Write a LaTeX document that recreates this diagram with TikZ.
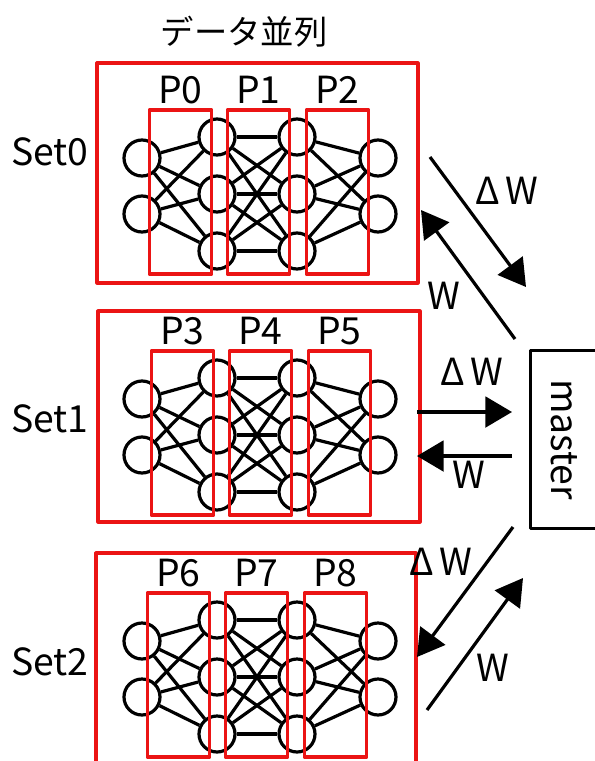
\documentclass[tikz,border=0pt]{standalone}
\usepackage{fontspec}
\setmainfont{Noto Sans CJK JP}
\usetikzlibrary{arrows.meta}
\definecolor{fg}{RGB}{0,0,0}
\definecolor{part}{RGB}{235,20,20}
\tikzset{
  every picture/.style={fg, line width=2.4pt, line join=round,
    >={Triangle[length=20pt,width=23pt]}},
  every node/.style={font=\fontsize{28pt}{30pt}\selectfont},
  % Netz
  neuron/.style={circle, draw=fg, line width=2.4pt, inner sep=0pt, minimum size=27pt},
  link/.style={line width=2.4pt},
  % Rahmen
  setframe/.style={draw=part, line width=2.4pt},
  pframe/.style={draw=part, line width=2.4pt, inner sep=0pt,
    minimum width=47pt, minimum height=123pt},
  % Kommunikation
  msg/.style={line width=2.4pt, ->},
}
\begin{document}
\begin{tikzpicture}[x=0.75pt, y=-0.75pt]
  \clip (0,0) rectangle (595,761);
  \node[font=\fontsize{25pt}{27pt}\selectfont] (title) at (244,32) {データ並列};
  % drei Datensätze mit je drei Prozessen
  \foreach \s/\dy/\dx/\top/\bot/\ly in {0/0/0/63/283/152, 1/241/2/311/522/419, 2/483/-2/553/800/662} {
    \node (set\s) at (50,\ly) {Set\s};
    \draw[setframe] (97+\dx/2,\top) rectangle (418+\dx,\bot);
    \foreach \r/\y in {1/158,2/214} {
      \node[neuron] (n\s-1-\r) at (142,\y+\dy) {};
      \node[neuron] (n\s-4-\r) at (378,\y+\dy) {};
    }
    \foreach \r/\y in {1/137,2/194,3/251} {
      \node[neuron] (n\s-2-\r) at (217,\y+\dy) {};
      \node[neuron] (n\s-3-\r) at (297,\y+\dy) {};
    }
    \foreach \a in {1,2} \foreach \b in {1,2,3} {
      \draw[link] (n\s-1-\a) -- (n\s-2-\b);
      \draw[link] (n\s-3-\b) -- (n\s-4-\a);
    }
    \foreach \a in {1,2,3} \foreach \b in {1,2,3}
      \draw[link] (n\s-2-\a) -- (n\s-3-\b);
    % Aufteilung auf P0 ... P8
    \foreach \k/\cx in {0/180.5, 1/258.5, 2/337.5} {
      \pgfmathtruncatemacro{\i}{3*\s+\k}
      \node[pframe] (p\i) at (\cx+\dx,192+\dy) {};
      \node (lp\i) at ([yshift=14pt]p\i.north) {P\i};
    }
  }
  % master
  \node[draw=fg, line width=2.2pt, rotate=-90, minimum width=134pt, minimum height=50pt,
    inner sep=0pt] (master) at (564,439.5) {master};
  \coordinate (d0a) at (430,157); \coordinate (d0b) at (526,287);
  \coordinate (w0a) at (515,339); \coordinate (w0b) at (421,210);
  \coordinate (d1a) at (417,412); \coordinate (d1b) at (512,412);
  \coordinate (w1a) at (512,456); \coordinate (w1b) at (417,456);
  \coordinate (d2a) at (513,527); \coordinate (d2b) at (417,657);
  \coordinate (w2a) at (427,710); \coordinate (w2b) at (523,578);
  \draw[msg] (d0a) -- (d0b);
  \draw[msg] (w0a) -- (w0b);
  \draw[msg] (d1a) -- (d1b);
  \draw[msg] (w1a) -- (w1b);
  \draw[msg] (d2a) -- (d2b);
  \draw[msg] (w2a) -- (w2b);
  \node (ld0) at (507,191) {Δ\,W};
  \node (lw0) at (444,296) {W};
  \node (ld1) at (472,372) {Δ\,W};
  \node (lw1) at (469,475) {W};
  \node (ld2) at (441,562) {Δ\,W};
  \node (lw2) at (493,668) {W};
\end{tikzpicture}
\end{document}
